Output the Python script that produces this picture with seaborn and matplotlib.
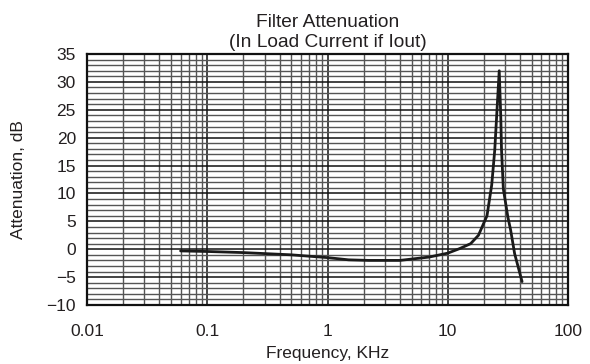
import numpy as np
import pandas as pd
import matplotlib
matplotlib.use("Agg")
import matplotlib.pyplot as plt
from matplotlib.ticker import LogLocator, MultipleLocator, FixedLocator, FixedFormatter, NullFormatter
import seaborn as sns

# Filter response: frequency (kHz) vs attenuation (dB)
freq_khz = [0.06, 0.1, 0.2, 0.5, 1.0, 1.5, 2.2, 4.0, 7.0, 10.0, 12.5, 15.5,
            18.0, 21.2, 23.2, 24.6, 25.5, 26.8, 27.6, 28.0, 29.0, 31.6, 33.3,
            36.0, 41.5]
atten_db = [-0.3, -0.4, -0.6, -1.0, -1.5, -1.9, -2.0, -2.0, -1.4, -0.7, 0.1, 1.0,
            2.5, 6.0, 11.5, 17.8, 23.8, 32.0, 23.8, 17.8, 10.8, 5.8, 3.5,
            -0.8, -5.8]

x_ticks = [0.01, 0.1, 1, 10, 100]
x_tick_labels = ["0.01", "0.1", "1", "10", "100"]
y_ticks = [-10, -5, 0, 5, 10, 15, 20, 25, 30, 35]

title_text = "Filter Attenuation\n(In Load Current if Iout)"
x_label = "Frequency, KHz"
y_label = "Attenuation, dB"

df = pd.DataFrame({"freq": freq_khz, "atten": atten_db})

sns.set_style("white")
plt.rcParams["font.family"] = ["Liberation Sans", "DejaVu Sans"]
text_color = "#231f20"

fig = plt.figure(figsize=(5.9, 3.64), dpi=100)
ax = fig.add_axes([0.1475, 0.162, 0.8152, 0.6896])

ax.set_xscale("log")
ax.set_xlim(0.01, 100)
ax.set_ylim(-10, 35)

# Log-paper style grid: minor lines every subdivision, heavier lines on majors
ax.xaxis.set_major_locator(FixedLocator(x_ticks))
ax.xaxis.set_major_formatter(FixedFormatter(x_tick_labels))
ax.xaxis.set_minor_locator(LogLocator(base=10, subs=np.arange(2, 10), numticks=20))
ax.xaxis.set_minor_formatter(NullFormatter())
ax.yaxis.set_major_locator(FixedLocator(y_ticks))
ax.yaxis.set_minor_locator(MultipleLocator(1))

ax.grid(which="minor", color="#555555", linewidth=1.0)
ax.grid(which="major", color="#111111", linewidth=1.1)
ax.set_axisbelow(True)

sns.lineplot(data=df, x="freq", y="atten", ax=ax, color="#1a1a1a",
             linewidth=2.0, sort=False, estimator=None)

for side in ax.spines.values():
    side.set_color("#111111")
    side.set_linewidth(1.6)

ax.tick_params(which="both", length=0, labelsize=12.5, colors=text_color, pad=14)
ax.tick_params(axis="y", pad=8)

ax.set_xlabel(x_label, fontsize=12.5, color=text_color, labelpad=5)
ax.set_ylabel(y_label, fontsize=12.5, color=text_color, labelpad=15)
ax.set_title(title_text, fontsize=13.8, color=text_color, linespacing=1.2, pad=5)

fig.savefig("out.png", dpi=100, facecolor="white")
